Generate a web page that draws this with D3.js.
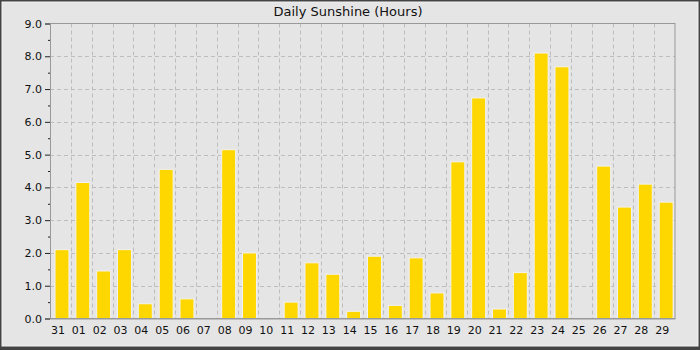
<!DOCTYPE html>
<html><head><meta charset="utf-8">
<script src="https://cdn.jsdelivr.net/npm/d3@7"></script>
<style>body{margin:0;background:#fff}svg{display:block}</style>
</head><body>
<script>
const title = "Daily Sunshine (Hours)";
const days = ["31","01","02","03","04","05","06","07","08","09","10","11","12","13","14","15","16","17","18","19","20","21","22","23","24","25","26","27","28","29"];
const sunshine = [2.1,4.15,1.45,2.1,0.45,4.55,0.6,null,5.15,2.0,0,0.5,1.7,1.35,0.22,1.9,0.4,1.85,0.78,4.78,6.73,0.29,1.4,8.1,7.68,null,4.65,3.4,4.1,3.55];
const yTicks = [0,1,2,3,4,5,6,7,8,9];
const yMinor = [0.5,1.5,2.5,3.5,4.5,5.5,6.5,7.5,8.5];

const W = 700, H = 350;
const m = {left:50, right:25, top:23.5, bottom:31.5};
const svg = d3.select("body").append("svg").attr("width",W).attr("height",H);
svg.append("rect").attr("width",W).attr("height",H).attr("fill","#444");
svg.append("rect").attr("x",2).attr("y",2).attr("width",W-4).attr("height",H-6).attr("fill","#e5e5e5").attr("stroke","#f4f4f4").attr("stroke-width",1);

const xb = d3.scaleBand().domain(days).range([m.left, W-m.right]);
const bw = xb.bandwidth();
const y = d3.scaleLinear().domain([0,9]).range([H-m.bottom, m.top]);

const g = svg.append("g");
g.selectAll("line.hg").data(yTicks.slice(1,-1)).join("line")
  .attr("x1",m.left).attr("x2",W-m.right).attr("y1",d=>Math.round(y(d))+0.5).attr("y2",d=>Math.round(y(d))+0.5)
  .attr("stroke","#bdbdbd").attr("stroke-dasharray","4,3");
g.selectAll("line.vg").data(days.slice(1)).join("line")
  .attr("x1",d=>Math.round(xb(d))+0.5).attr("x2",d=>Math.round(xb(d))+0.5).attr("y1",m.top).attr("y2",H-m.bottom)
  .attr("stroke","#bdbdbd").attr("stroke-dasharray","4,3");

g.selectAll("rect.bar").data(days.map((d,i)=>({d,v:sunshine[i]})).filter(o=>o.v!==null)).join("rect")
  .attr("x",o=>xb(o.d)+bw*0.24).attr("width",bw*0.67)
  .attr("y",o=>y(o.v)).attr("height",o=>y(0)-y(o.v))
  .attr("fill","#ffd700").attr("stroke","#f2f2f2").attr("stroke-width",1);

svg.append("rect").attr("x",m.left+0.5).attr("y",m.top).attr("width",W-m.left-m.right-0.5).attr("height",H-m.top-m.bottom)
  .attr("fill","none").attr("stroke","#999");

const yAxis = d3.axisLeft(y).tickValues(yTicks).tickFormat(d3.format(".1f")).tickSize(5).tickPadding(3);
const ya = svg.append("g").attr("transform",`translate(${m.left},0)`).call(yAxis);
ya.select(".domain").attr("stroke","#999");
ya.selectAll(".tick line").attr("stroke","#222");
ya.selectAll("text").attr("font-family","DejaVu Sans").attr("font-size",11).attr("fill","#111");
const ym = d3.axisLeft(y).tickValues(yMinor).tickFormat("").tickSize(2);
const yma = svg.append("g").attr("transform",`translate(${m.left},0)`).call(ym);
yma.select(".domain").remove();
yma.selectAll(".tick line").attr("stroke","#222");

const xAxis = d3.axisBottom(xb).tickSize(0).tickPadding(8);
const xa = svg.append("g").attr("transform",`translate(0,${H-m.bottom})`).call(xAxis);
xa.select(".domain").attr("stroke","#999");
xa.selectAll("text").attr("font-family","DejaVu Sans").attr("font-size",11).attr("fill","#111")
  .attr("text-anchor","start").attr("x",-bw/2+1);

svg.append("text").attr("x",348).attr("y",15.5).attr("text-anchor","middle")
  .attr("font-family","DejaVu Sans").attr("font-size",13).attr("fill","#111").text(title);
</script>
</body></html>
